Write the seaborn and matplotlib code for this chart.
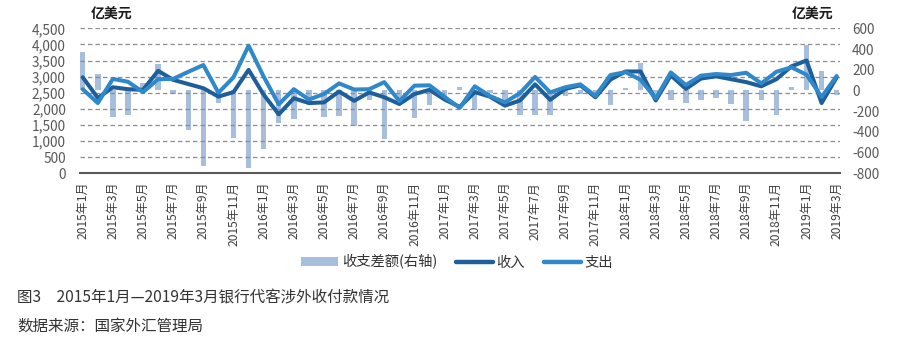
import matplotlib
matplotlib.use("Agg")
import matplotlib.pyplot as plt
from matplotlib.ticker import FuncFormatter, FixedLocator
from matplotlib.patches import Patch
from matplotlib.lines import Line2D
import seaborn as sns
import pandas as pd
import numpy as np

# ---------------- data (亿美元) ----------------
month_idx = list(range(51))  # 2015-01 ... 2019-03

income = [2980, 2340, 2670, 2610, 2590, 3180, 2900, 2770, 2640, 2380,
          2520, 3210, 2440, 1830, 2330, 2180, 2200, 2540, 2250, 2510,
          2360, 2150, 2460, 2590, 2290, 2060, 2520, 2380, 2100, 2260,
          2760, 2280, 2620, 2730, 2360, 2910, 3160, 3160, 2260, 3040,
          2620, 2940, 3010, 2920, 2830, 2700, 2920, 3320, 3500, 2180,
          2980]

expense = [2610, 2180, 2930, 2840, 2520, 2920, 2930, 3150, 3360, 2500,
           2980, 3960, 3000, 2140, 2610, 2290, 2460, 2790, 2600, 2610,
           2830, 2240, 2720, 2730, 2370, 2030, 2700, 2400, 2200, 2490,
           2990, 2510, 2670, 2760, 2400, 3050, 3140, 2900, 2320, 3130,
           2740, 3030, 3080, 3050, 3120, 2790, 3150, 3290, 3060, 2370,
           3020]

balance = [375, 160, -260, -235, 70, 260, -30, -380, -725, -122,
           -460, -750, -570, -310, -280, -110, -260, -250, -345, -95,
           -470, -80, -265, -145, -84, 30, -185, -20, -100, -235,
           -235, -235, -55, -32, -42, -138, 22, 264, -60, -90,
           -122, -88, -74, -130, -292, -90, -235, 30, 441, 190,
           -42]

tick_pos = list(range(0, 51, 2))
tick_labels = ["2015年1月", "2015年3月", "2015年5月", "2015年7月", "2015年9月", "2015年11月",
               "2016年1月", "2016年3月", "2016年5月", "2016年7月", "2016年9月", "2016年11月",
               "2017年1月", "2017年3月", "2017年5月", "2017年7月", "2017年9月", "2017年11月",
               "2018年1月", "2018年3月", "2018年5月", "2018年7月", "2018年9月", "2018年11月",
               "2019年1月", "2019年3月"]

left_ticks = [0, 500, 1000, 1500, 2000, 2500, 3000, 3500, 4000, 4500]
right_ticks = [-800, -600, -400, -200, 0, 200, 400, 600]

df = pd.DataFrame({"idx": month_idx, "收入": income, "支出": expense, "差额": balance})

# ---------------- style ----------------
sns.set_theme(style="white")
plt.rcParams["font.family"] = ["Noto Sans CJK SC", "DejaVu Sans"]
plt.rcParams["axes.unicode_minus"] = False

c_bar = "#A7BEDD"
c_inc = "#1D5E9B"
c_exp = "#2F88C9"
c_tick = "#595959"

fig = plt.figure(figsize=(9.08, 3.51), dpi=100)
ax = fig.add_axes([79.7 / 908, 177.7 / 351, 760 / 908, 145 / 351])
ax2 = ax.twinx()

# bars on the right axis
sns.barplot(data=df, x="idx", y="差额", ax=ax2, native_scale=True, width=0.36,
            color=c_bar, saturation=1, edgecolor="none", linewidth=0)

# lines on the left axis
sns.lineplot(data=df, x="idx", y="收入", ax=ax, color=c_inc, linewidth=2.9,
             solid_joinstyle="round", solid_capstyle="round")
sns.lineplot(data=df, x="idx", y="支出", ax=ax, color=c_exp, linewidth=2.9,
             solid_joinstyle="round", solid_capstyle="round")

ax.set_zorder(ax2.get_zorder() + 1)
ax.patch.set_visible(False)

ax.set_xlim(-0.2, 50.2)
ax.set_ylim(0, 4500)
ax2.set_ylim(-800, 600)

ax.yaxis.set_major_locator(FixedLocator(left_ticks))
ax2.yaxis.set_major_locator(FixedLocator(right_ticks))
ax.yaxis.set_major_formatter(FuncFormatter(lambda v, p: f"{int(round(v)):,}"))
ax2.yaxis.set_major_formatter(FuncFormatter(lambda v, p: f"{int(round(v))}"))

ax.set_xticks(tick_pos)
ax.set_xticklabels(tick_labels, rotation=90, ha="center", va="top", fontweight="medium")

ax.set_xlabel("")
ax.set_ylabel("")
ax2.set_xlabel("")
ax2.set_ylabel("")

ax.grid(False)
ax2.grid(False)
ax.yaxis.grid(True, linestyle=(0, (3.5, 2.5)), color="#8c8c8c", linewidth=0.9)

for s in ["top", "right", "left"]:
    ax.spines[s].set_visible(False)
for s in ax2.spines.values():
    s.set_visible(False)
ax.spines["bottom"].set_color(c_tick)
ax.spines["bottom"].set_linewidth(1.5)

ax.tick_params(axis="y", length=0, pad=10, labelsize=9.8, labelcolor=c_tick)
ax2.tick_params(axis="y", length=0, pad=9, labelsize=9.8, labelcolor=c_tick)
ax.tick_params(axis="x", length=4, width=1, color=c_tick, pad=2,
               labelsize=8.7, labelcolor="#404040")
for t in ax.get_yticklabels() + ax2.get_yticklabels():
    t.set_fontweight("medium")

# unit labels
fig.text(91 / 908, 1 - 15 / 351, "亿美元", ha="left", va="center",
         fontsize=10, fontweight="bold", color="#1a1a1a")
fig.text(833 / 908, 1 - 15 / 351, "亿美元", ha="right", va="center",
         fontsize=10, fontweight="bold", color="#1a1a1a")

# legend
handles = [Patch(facecolor=c_bar, edgecolor="none", label="收支差额(右轴)"),
           Line2D([0], [0], color=c_inc, lw=3.2, solid_capstyle="round", label="收入"),
           Line2D([0], [0], color=c_exp, lw=3.2, solid_capstyle="round", label="支出")]
leg = fig.legend(handles=handles, loc="center", bbox_to_anchor=(457 / 908, 1 - 262 / 351),
                 ncol=3, frameon=False, fontsize=10.3, handlelength=2.6, handleheight=0.6,
                 columnspacing=1.3, handletextpad=0.25, labelcolor="#333333")
for t in leg.get_texts():
    t.set_fontweight("medium")

# caption
fig.text(17 / 908, 1 - 298 / 351, "图3\u30002015年1月—2019年3月银行代客涉外收付款情况",
         ha="left", va="center", fontsize=11.2, color="#333333")
fig.text(17 / 908, 1 - 326 / 351, "数据来源：国家外汇管理局",
         ha="left", va="center", fontsize=11.2, color="#333333")

fig.savefig("out.png", dpi=100, facecolor="white")
